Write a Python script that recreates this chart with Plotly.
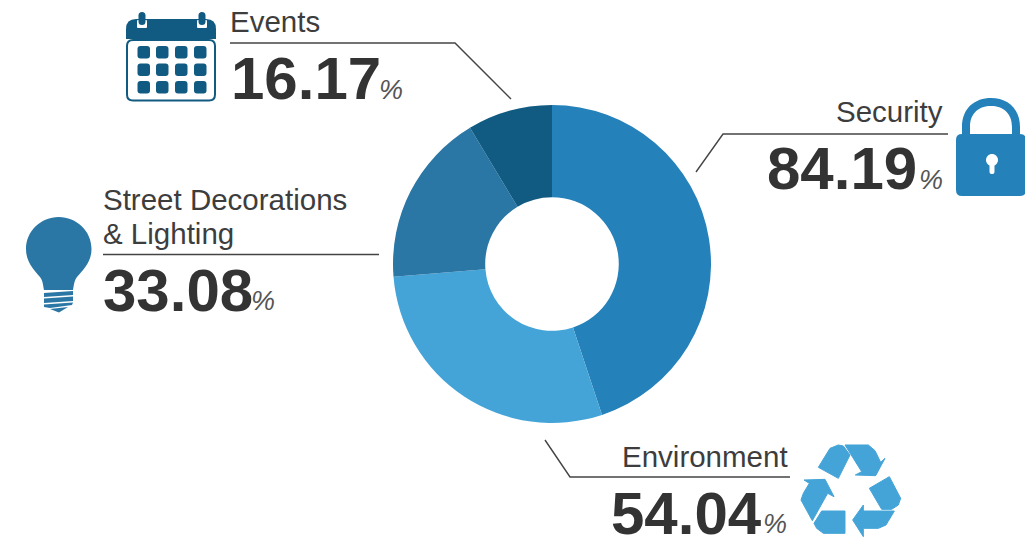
import re
import plotly.graph_objects as go

W, H = 1025, 541

categories = ["Security", "Environment", "Street Decorations", "& Lighting", "Events"]
pie_labels = ["Security", "Environment", "Street Decorations & Lighting", "Events"]
values = [84.19, 54.04, 33.08, 16.17]
value_labels = ["84.19", "54.04", "33.08", "16.17"]
colors = ["#2581BA", "#44A4D8", "#2A76A5", "#115B82"]
TEXT = "#3d3d3d"
BIG = "#333333"
LINE = "#444444"


def conv(s):
    def rep(m):
        return f"{float(m.group(1)) / W:.5f},{1 - float(m.group(2)) / H:.5f}"
    return re.sub(r"(-?[\d.]+),(-?[\d.]+)", rep, s)


def shape(path, fill=None, line=None, width=0):
    d = dict(type="path", xref="paper", yref="paper", path=conv(path), layer="above")
    d["fillcolor"] = fill if fill else "rgba(0,0,0,0)"
    d["line"] = dict(color=line if line else "rgba(0,0,0,0)", width=width)
    return d


def rr(x0, y0, x1, y1, r):
    return (f"M{x0+r},{y0} L{x1-r},{y0} Q{x1},{y0} {x1},{y0+r} L{x1},{y1-r} Q{x1},{y1} {x1-r},{y1} "
            f"L{x0+r},{y1} Q{x0},{y1} {x0},{y1-r} L{x0},{y0+r} Q{x0},{y0} {x0+r},{y0} Z")


def circle(cx, cy, r):
    k = 0.5523 * r
    return (f"M{cx+r},{cy} C{cx+r},{cy+k} {cx+k},{cy+r} {cx},{cy+r} C{cx-k},{cy+r} {cx-r},{cy+k} {cx-r},{cy} "
            f"C{cx-r},{cy-k} {cx-k},{cy-r} {cx},{cy-r} C{cx+k},{cy-r} {cx+r},{cy-k} {cx+r},{cy} Z")


def poly(pts):
    return "M" + " L".join(f"{x},{y}" for x, y in pts) + " Z"


shapes = []

# leader lines
for pts in [
    [(230, 43), (455, 43), (511, 99)],
    [(948, 134), (723, 134), (696, 172)],
    [(103, 254.5), (379, 254.5)],
    [(790, 477), (570, 477), (545, 440)],
]:
    shapes.append(shape("M" + " L".join(f"{x},{y}" for x, y in pts), line=LINE, width=1.4))

# calendar icon
CAL = colors[3]
shapes.append(shape(rr(127, 40, 215, 100.5, 6), fill="#ffffff", line=CAL, width=2))
shapes.append(shape("M126,39 L126,29 Q126,19 136,19 L206,19 Q216,19 216,29 L216,39 Z", fill=CAL))
for x0 in (137, 197):
    shapes.append(shape(rr(x0, 20, x0 + 10, 28, 1), fill="#ffffff"))
    shapes.append(shape(rr(x0 + 1.5, 12, x0 + 8.5, 25, 3.5), fill=CAL))
for x0 in (137.5, 156, 175, 194):
    for y0 in (46, 63.5, 81):
        shapes.append(shape(rr(x0, y0, x0 + 12.5, y0 + 12.5, 3), fill=CAL))

# lock icon
LOCK = colors[0]
shapes.append(shape("M962,136 L962,127 C962,108 975,98 991,98 C1007,98 1020,108 1020,127 L1020,136 "
                    "L1012,136 L1012,127 C1012,113 1003,106 991,106 C979,106 970,113 970,127 L970,136 Z", fill=LOCK))
shapes.append(shape(rr(956, 134, 1026, 196, 6), fill=LOCK))
shapes.append(shape(circle(992, 160, 6), fill="#ffffff"))
shapes.append(shape(rr(989.5, 162, 994.5, 174, 2), fill="#ffffff"))

# bulb icon
BULB = colors[2]
shapes.append(shape("M26,249 C26,231 41,217 58.7,217 C76.5,217 91.5,231 91.5,249 C91.5,262 83,270 77,277 "
                    "C74,281 74,285 73,290 L44,290 C43,285 43,281 40,277 C34,270 26,262 26,249 Z", fill=BULB))
for pts in [
    [(44, 293), (73, 291), (73, 295), (44, 297)],
    [(44, 298.5), (73, 296.5), (73, 301), (44, 303)],
    [(44, 304.5), (73, 302.5), (72, 305), (50, 308), (44, 307)],
    [(50, 309), (68, 307), (59, 312.5)],
]:
    shapes.append(shape(poly(pts), fill=BULB))

# recycle icon
REC = colors[1]
for z in [
    [(115, 112), (150, 55), (175, 45), (190, 48), (210, 75), (175, 145)],
    [(195, 45), (265, 45), (285, 62), (302, 97), (315, 85), (287, 137), (226, 135), (245, 125)],
    [(328, 140), (362, 205), (355, 225), (335, 238), (305, 238), (268, 175)],
    [(343, 243), (318, 285), (295, 295), (250, 295), (250, 320), (218, 270), (250, 225), (250, 243)],
    [(195, 243), (195, 310), (130, 310), (110, 295), (102, 280), (125, 243)],
    [(72, 150), (135, 148), (162, 200), (143, 190), (97, 272), (63, 210), (70, 190), (88, 160)],
]:
    shapes.append(shape(poly([(780 + x / 3, 430 + y / 3) for x, y in z]), fill=REC, line=REC, width=1))


def note(text, x, y, size, color, xanchor="left", bold=False, italic=False, height=None):
    d = dict(
        text=f"<b>{text}</b>" if bold else (f"<i>{text}</i>" if italic else text),
        x=x / W, y=1 - y / H, xref="paper", yref="paper", showarrow=False,
        xanchor=xanchor, yanchor="middle", align=xanchor, borderpad=0,
        font=dict(family="Arial, Liberation Sans, sans-serif", size=size, color=color),
    )
    if height:
        d["height"] = height
    return d


LAB, NUM, PCT = 29.5, 60, 27
annotations = [
    note(categories[4], 229, 22, LAB, TEXT),
    note(value_labels[3], 230, 78, NUM, BIG, bold=True),
    note("%", 377.5, 90, PCT, "#555555", italic=True),

    note(categories[0], 944, 112, LAB, TEXT, xanchor="right"),
    note(value_labels[0], 918, 169, NUM, BIG, xanchor="right", bold=True),
    note("%", 944, 180, PCT, "#555555", xanchor="right", italic=True),

    note(categories[2], 102, 199, LAB, TEXT),
    note(categories[3], 102, 233, LAB, TEXT),
    note(value_labels[2], 102, 290, NUM, BIG, bold=True),
    note("%", 250, 301, PCT, "#555555", italic=True),

    note(categories[1], 789, 456, LAB, TEXT, xanchor="right"),
    note(value_labels[1], 763, 513, NUM, BIG, xanchor="right", bold=True, height=54),
    note("%", 788, 524, PCT, "#555555", xanchor="right", italic=True),
]

fig = go.Figure(go.Pie(
    labels=pie_labels,
    values=values, sort=False, direction="clockwise", rotation=0, hole=0.42,
    marker=dict(colors=colors, line=dict(width=0)), textinfo="none", hoverinfo="label+value",
    showlegend=False,
    domain=dict(x=[393 / W, 711 / W], y=[1 - 423 / H, 1 - 105 / H]),
))
fig.update_layout(
    width=W, height=H, autosize=False, margin=dict(l=0, r=0, t=0, b=0),
    paper_bgcolor="#ffffff", plot_bgcolor="#ffffff",
    shapes=shapes, annotations=annotations,
)
fig.write_html("out.html", config=dict(displayModeBar=False),
               post_script="document.body.style.margin='0';document.body.style.overflow='hidden';")
